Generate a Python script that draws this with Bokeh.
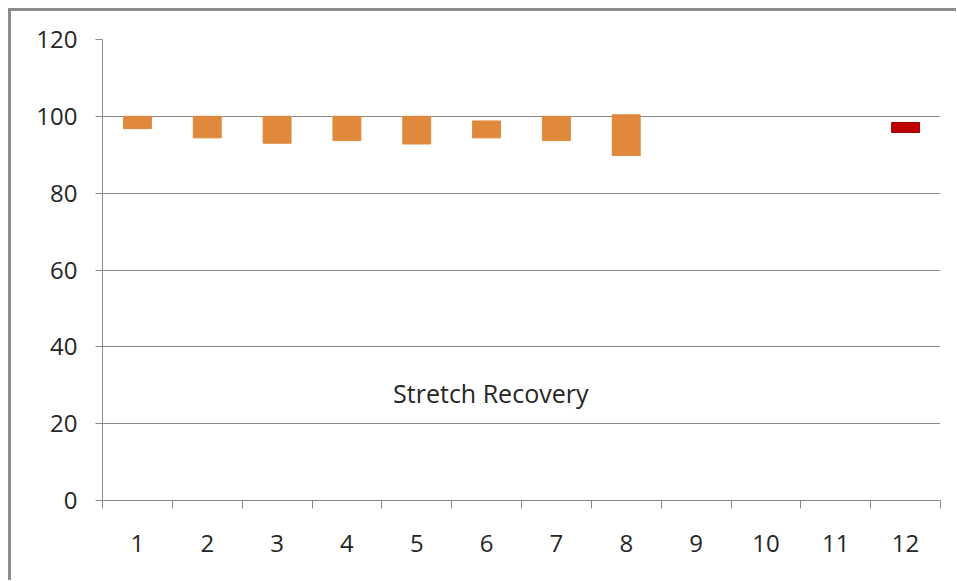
from bokeh.plotting import figure
from bokeh.models import FixedTicker, ColumnDataSource, Range1d
from bokeh.core.properties import value
from bokeh.embed import file_html
from bokeh.resources import INLINE

# Data
categories = [1, 2, 3, 4, 5, 6, 7, 8, 9, 10, 11, 12]
orange_x = [1, 2, 3, 4, 5, 6, 7, 8]
orange_low = [96.8, 94.4, 93.0, 93.7, 92.8, 94.4, 93.7, 89.8]
orange_high = [100.0, 100.0, 100.0, 100.0, 100.0, 98.8, 100.0, 100.4]
red_x = [12]
red_low = [95.8]
red_high = [98.4]
y_ticks = [0, 20, 40, 60, 80, 100, 120]
label_text = ["Stretch Recovery"]
label_x = [6.06]
label_y = [27.9]

FONT = "Open Sans"
GRID = "#8a8a8a"
TXT = "#262626"

p = figure(
    output_backend="svg", toolbar_location=None,
    width=945, height=569,
    frame_width=838, frame_height=461,
    min_border_left=91, min_border_right=16, min_border_top=28, min_border_bottom=80,
    x_range=Range1d(0.5, 12.5), y_range=Range1d(0, 120),
)
p.margin = (8, 0, 0, 8)
p.styles = {"border-left": "3px solid #8c8c8c", "border-top": "3px solid #8c8c8c"}
p.outline_line_color = None
p.background_fill_color = "white"
p.border_fill_color = "white"

# x axis: labels at category centres, tick marks at boundaries
p.xaxis.ticker = FixedTicker(ticks=categories,
                             minor_ticks=[c - 0.5 for c in categories] + [categories[-1] + 0.5])
p.xaxis.major_tick_line_color = None
p.xaxis.minor_tick_line_color = GRID
p.xaxis.minor_tick_out = 8
p.xaxis.minor_tick_in = 0
p.xaxis.axis_line_color = GRID
p.xaxis.major_label_text_font = FONT
p.xaxis.major_label_text_font_size = "24px"
p.xaxis.major_label_text_color = TXT
p.xaxis.major_label_standoff = 26

p.yaxis.ticker = FixedTicker(ticks=y_ticks)
p.yaxis.minor_tick_line_color = None
p.yaxis.major_tick_line_color = GRID
p.yaxis.major_tick_out = 7
p.yaxis.major_tick_in = 0
p.yaxis.axis_line_color = GRID
p.yaxis.major_label_text_font = FONT
p.yaxis.major_label_text_font_size = "24px"
p.yaxis.major_label_text_color = TXT
p.yaxis.major_label_standoff = 18

p.xgrid.grid_line_color = None
p.ygrid.ticker = FixedTicker(ticks=y_ticks)
p.ygrid.grid_line_color = GRID
p.ygrid.grid_line_width = 1

src_o = ColumnDataSource(dict(x=orange_x, bottom=orange_low, top=orange_high))
p.vbar(x="x", bottom="bottom", top="top", width=0.4, source=src_o,
       fill_color="#E0883C", line_color="#E0883C")
src_r = ColumnDataSource(dict(x=red_x, bottom=red_low, top=red_high))
p.vbar(x="x", bottom="bottom", top="top", width=0.4, source=src_r,
       fill_color="#C00000", line_color="#A00000")

src_t = ColumnDataSource(dict(x=label_x, y=label_y, t=label_text))
p.text(x="x", y="y", text="t", source=src_t, text_font=value(FONT),
       text_font_size="25px", text_color=TXT, text_align="center",
       text_baseline="alphabetic")

open("out.html", "w").write(file_html(p, INLINE))
